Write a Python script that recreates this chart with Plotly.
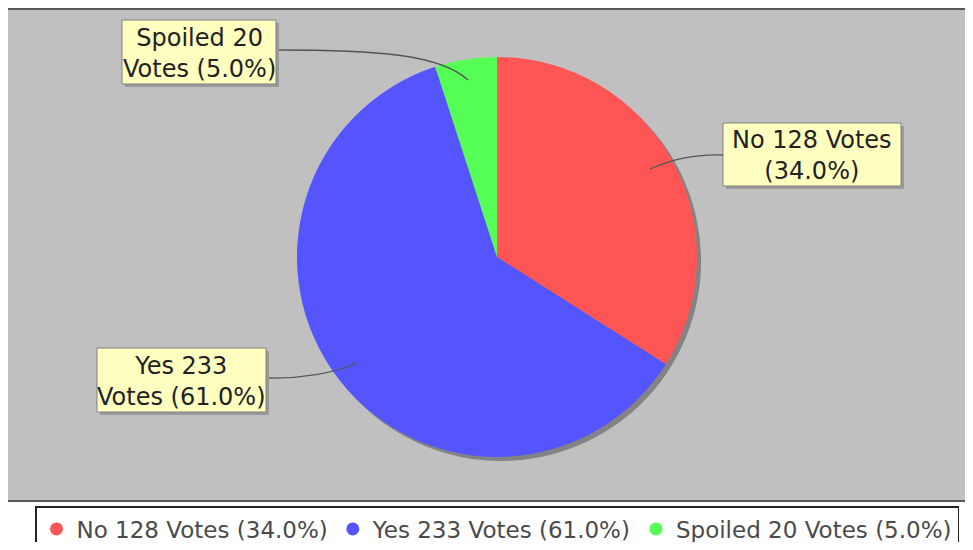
import plotly.graph_objects as go

# the page body keeps an 8px margin, so the figure is drawn 16px smaller
# and the hidden axes use page pixel coordinates
OFF = 8
W, H = 973 - 2 * OFF, 550 - 2 * OFF

categories = ["No", "Yes", "Spoiled"]
votes = [128, 233, 20]
percents = [34.0, 61.0, 5.0]
colors = ["#FF5555", "#5555FF", "#55FF55"]

legend_names = [f"{c} {v} Votes ({p:.1f}%)" for c, v, p in zip(categories, votes, percents)]
box_texts = [
    f"{categories[0]} {votes[0]} Votes<br>({percents[0]:.1f}%)",
    f"{categories[1]} {votes[1]}<br>Votes ({percents[1]:.1f}%)",
    f"{categories[2]} {votes[2]}<br>Votes ({percents[2]:.1f}%)",
]

# label boxes (page pixels: x0, y0, x1, y1) and connector paths
boxes = [(723, 123, 901, 186), (97, 348, 266, 412), (122, 20, 276, 84)]
links = [
    "M 723 155 C 695 154, 672 159, 650 169",
    "M 266 378 C 300 379, 335 373, 357 363",
    "M 276 50 C 375 50, 440 54, 468 80",
]


def px(x0, x1, y0, y1):
    return dict(x=[(x0 - OFF) / W, (x1 - OFF) / W],
                y=[1 - (y1 - OFF) / H, 1 - (y0 - OFF) / H])


fig = go.Figure()

# pie shadow
fig.add_trace(go.Pie(
    values=[1], marker=dict(colors=["#838383"], line=dict(width=0)),
    textinfo="none", hoverinfo="skip", showlegend=False, sort=False,
    domain=px(301, 701, 61, 461),
))
fig.add_trace(go.Pie(
    labels=categories, values=percents,
    marker=dict(colors=colors, line=dict(width=0)),
    textinfo="none", sort=False, direction="clockwise", rotation=0,
    showlegend=False, domain=px(297, 697, 57, 457),
))

# legend entries with round symbols
for name, col in zip(legend_names, colors):
    fig.add_trace(go.Scatter(
        x=[None], y=[None], mode="markers", name=name,
        marker=dict(color=col, size=13, symbol="circle"),
    ))

shapes = [dict(type="rect", xref="x", yref="y", x0=6, y0=9, x1=980, y1=501,
               fillcolor="#C0C0C0", line=dict(color="#595959", width=2), layer="below")]
for path in links:
    shapes.append(dict(type="path", xref="x", yref="y", path=path,
                       line=dict(color="#555555", width=1.3), layer="above"))
annotations = []
for (x0, y0, x1, y1), txt in zip(boxes, box_texts):
    shapes.append(dict(type="rect", xref="x", yref="y", x0=x0 + 3, y0=y0 + 3, x1=x1 + 3, y1=y1 + 3,
                       fillcolor="#9A9A9A", line=dict(width=0), layer="above"))
    shapes.append(dict(type="rect", xref="x", yref="y", x0=x0, y0=y0, x1=x1, y1=y1,
                       fillcolor="#FFFFC0", line=dict(color="#808080", width=1), layer="above"))
    annotations.append(dict(x=(x0 + x1) / 2, y=(y0 + y1) / 2 + 1, xref="x", yref="y",
                            text=txt, showarrow=False, align="center",
                            font=dict(family="DejaVu Sans", size=24, color="#222222")))

fig.update_layout(
    width=W, height=H,
    margin=dict(l=0, r=0, t=0, b=0, autoexpand=False),
    paper_bgcolor="white", plot_bgcolor="rgba(0,0,0,0)",
    xaxis=dict(range=[OFF, OFF + W], visible=False, fixedrange=True, domain=[0, 1]),
    yaxis=dict(range=[OFF + H, OFF], visible=False, fixedrange=True, domain=[0, 1]),
    shapes=shapes, annotations=annotations,
    showlegend=True,
    legend=dict(orientation="h", x=(497 - OFF) / W, xanchor="center",
                y=1 - (506 - OFF) / H, yanchor="top",
                bgcolor="white", bordercolor="#222222", borderwidth=1.5,
                font=dict(family="DejaVu Sans", size=23, color="#4A4A4A"),
                itemwidth=30, tracegroupgap=0),
)

fig.write_html("out.html")
